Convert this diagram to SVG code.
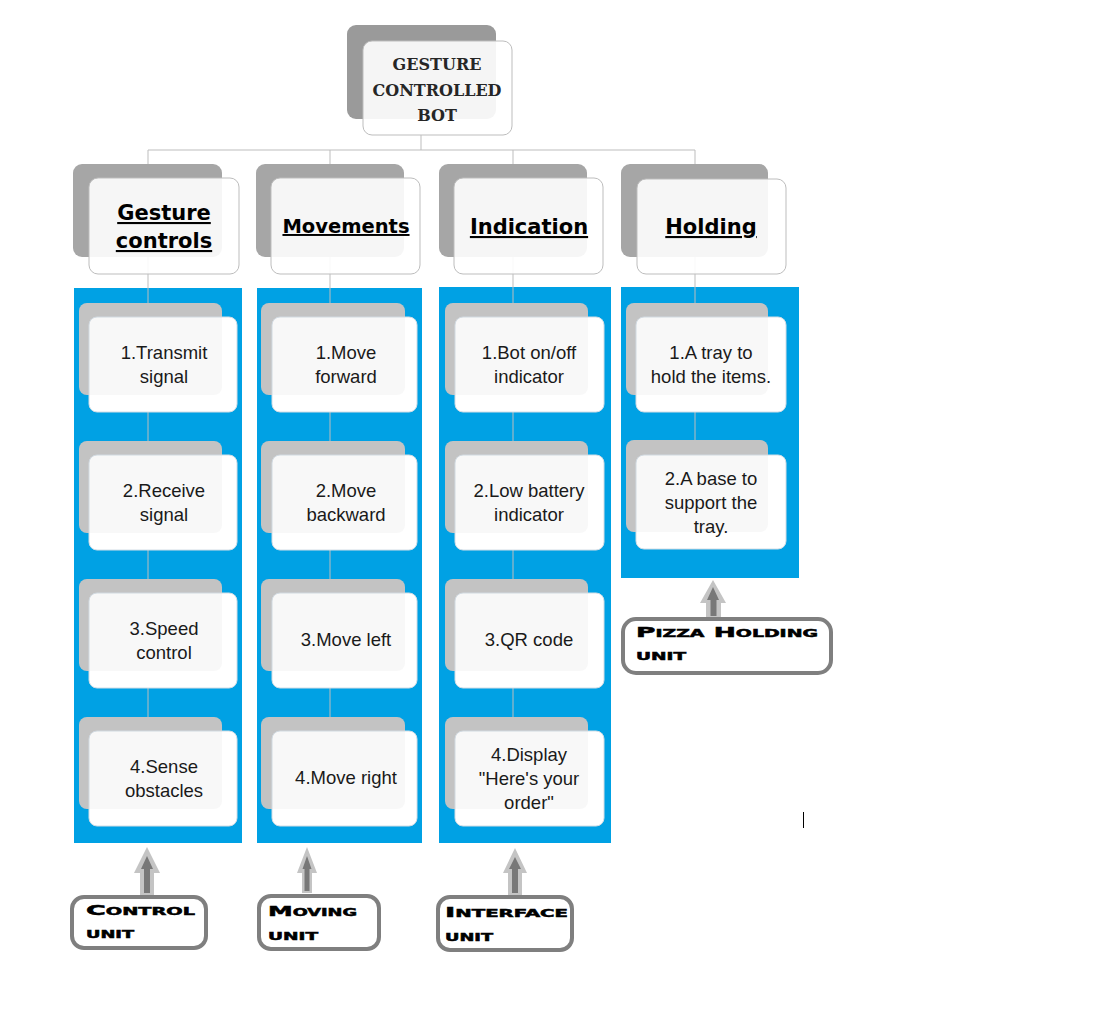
<svg xmlns="http://www.w3.org/2000/svg" width="1100" height="1017" viewBox="0 0 1100 1017">
<style>
.bg{fill:#ffffff}
.blue{fill:#00a1e4}
.bk0{fill:#9a9a9a}
.bk1{fill:#a6a6a6}
.bk2{fill:#c3c3c3}
.ov{fill:#c3c3c3;fill-opacity:.12}
.fr{fill:#ffffff;fill-opacity:.9;stroke:#bdbdbd;stroke-width:1}
.fr2{fill:#ffffff;stroke:#d3dde5;stroke-width:1}
.conn{stroke:#bdbdbd;stroke-width:1;fill:none}
.t0{font-family:"DejaVu Serif",serif;font-weight:bold;font-size:16px;text-anchor:middle;fill:#262626}
.t1{font-family:"DejaVu Sans",sans-serif;font-weight:bold;font-size:21px;text-anchor:middle;text-decoration:underline;fill:#000}
.t1s{font-size:19.5px}
.t2{font-family:"Liberation Sans",Arial,sans-serif;font-size:18.5px;text-anchor:middle;fill:#1a1a1a}
.lab{fill:#ffffff;stroke:#7f7f7f;stroke-width:4}
.t3{font-family:"DejaVu Sans",sans-serif;font-weight:bold;font-size:14px;font-variant:small-caps;fill:#000;stroke:#000;stroke-width:.5}
.aO{fill:#c4c4c4}
.aI{fill:#787878}
</style>
<rect class="bg" x="0" y="0" width="1100" height="1017"/>

<g id="panels">
<rect class="blue" x="74" y="288" width="168" height="555"/>
<rect class="blue" x="257" y="288" width="165" height="555"/>
<rect class="blue" x="439" y="287" width="172" height="556"/>
<rect class="blue" x="621" y="287" width="178" height="291"/>
</g>

<g id="connectors">
<path class="conn" d="M421 135V150M148 150H695M148 150V717M330 150V717M513 150V717M695 150V440"/>
</g>

<g id="root">
<rect class="bk0" x="347" y="25" width="149" height="94" rx="9"/>
<rect class="fr" x="363" y="41" width="149" height="94" rx="9"/>
<text class="t0" x="437" y="70">GESTURE</text>
<text class="t0" x="437" y="96">CONTROLLED</text>
<text class="t0" x="437" y="121">BOT</text>
</g>

<g id="gesture">
<rect class="bk1" x="73" y="164" width="149" height="93" rx="9"/>
<rect class="fr" x="89" y="178" width="150" height="96" rx="9"/>
<text class="t1" x="164" y="220">Gesture</text>
<text class="t1" x="164" y="248">controls</text>
</g>
<g id="movements">
<rect class="bk1" x="256" y="164" width="148" height="93" rx="9"/>
<rect class="fr" x="271" y="178" width="149" height="96" rx="9"/>
<text class="t1 t1s" x="346" y="233">Movements</text>
</g>
<g id="indication">
<rect class="bk1" x="439" y="164" width="148" height="93" rx="9"/>
<rect class="fr" x="454" y="178" width="149" height="96" rx="9"/>
<text class="t1" x="529" y="234">Indication</text>
</g>
<g id="holding">
<rect class="bk1" x="621" y="164" width="147" height="93" rx="9"/>
<rect class="fr" x="637" y="179" width="149" height="95" rx="9"/>
<text class="t1" x="711" y="234">Holding</text>
</g>

<g id="g1">
<rect class="bk2" x="79" y="303" width="143" height="92" rx="8"/>
<rect class="fr2" x="89" y="317" width="148" height="95" rx="8"/>
<rect class="ov" x="79" y="303" width="143" height="92" rx="8"/>
<text class="t2" x="164" y="359">1.Transmit</text>
<text class="t2" x="164" y="383">signal</text>
</g>
<g id="g2">
<rect class="bk2" x="79" y="441" width="143" height="92" rx="8"/>
<rect class="fr2" x="89" y="455" width="148" height="95" rx="8"/>
<rect class="ov" x="79" y="441" width="143" height="92" rx="8"/>
<text class="t2" x="164" y="497">2.Receive</text>
<text class="t2" x="164" y="521">signal</text>
</g>
<g id="g3">
<rect class="bk2" x="79" y="579" width="143" height="92" rx="8"/>
<rect class="fr2" x="89" y="593" width="148" height="95" rx="8"/>
<rect class="ov" x="79" y="579" width="143" height="92" rx="8"/>
<text class="t2" x="164" y="635">3.Speed</text>
<text class="t2" x="164" y="659">control</text>
</g>
<g id="g4">
<rect class="bk2" x="79" y="717" width="143" height="92" rx="8"/>
<rect class="fr2" x="89" y="731" width="148" height="95" rx="8"/>
<rect class="ov" x="79" y="717" width="143" height="92" rx="8"/>
<text class="t2" x="164" y="773">4.Sense</text>
<text class="t2" x="164" y="797">obstacles</text>
</g>

<g id="m1">
<rect class="bk2" x="261" y="303" width="144" height="92" rx="8"/>
<rect class="fr2" x="272" y="317" width="145" height="95" rx="8"/>
<rect class="ov" x="261" y="303" width="144" height="92" rx="8"/>
<text class="t2" x="346" y="359">1.Move</text>
<text class="t2" x="346" y="383">forward</text>
</g>
<g id="m2">
<rect class="bk2" x="261" y="441" width="144" height="92" rx="8"/>
<rect class="fr2" x="272" y="455" width="145" height="95" rx="8"/>
<rect class="ov" x="261" y="441" width="144" height="92" rx="8"/>
<text class="t2" x="346" y="497">2.Move</text>
<text class="t2" x="346" y="521">backward</text>
</g>
<g id="m3">
<rect class="bk2" x="261" y="579" width="144" height="92" rx="8"/>
<rect class="fr2" x="272" y="593" width="145" height="95" rx="8"/>
<rect class="ov" x="261" y="579" width="144" height="92" rx="8"/>
<text class="t2" x="346" y="646">3.Move left</text>
</g>
<g id="m4">
<rect class="bk2" x="261" y="717" width="144" height="92" rx="8"/>
<rect class="fr2" x="272" y="731" width="145" height="95" rx="8"/>
<rect class="ov" x="261" y="717" width="144" height="92" rx="8"/>
<text class="t2" x="346" y="784">4.Move right</text>
</g>

<g id="i1">
<rect class="bk2" x="445" y="303" width="143" height="92" rx="8"/>
<rect class="fr2" x="455" y="317" width="149" height="95" rx="8"/>
<rect class="ov" x="445" y="303" width="143" height="92" rx="8"/>
<text class="t2" x="529" y="359">1.Bot on/off</text>
<text class="t2" x="529" y="383">indicator</text>
</g>
<g id="i2">
<rect class="bk2" x="445" y="441" width="143" height="92" rx="8"/>
<rect class="fr2" x="455" y="455" width="149" height="95" rx="8"/>
<rect class="ov" x="445" y="441" width="143" height="92" rx="8"/>
<text class="t2" x="529" y="497">2.Low battery</text>
<text class="t2" x="529" y="521">indicator</text>
</g>
<g id="i3">
<rect class="bk2" x="445" y="579" width="143" height="92" rx="8"/>
<rect class="fr2" x="455" y="593" width="149" height="95" rx="8"/>
<rect class="ov" x="445" y="579" width="143" height="92" rx="8"/>
<text class="t2" x="529" y="646">3.QR code</text>
</g>
<g id="i4">
<rect class="bk2" x="445" y="717" width="143" height="92" rx="8"/>
<rect class="fr2" x="455" y="731" width="149" height="95" rx="8"/>
<rect class="ov" x="445" y="717" width="143" height="92" rx="8"/>
<text class="t2" x="529" y="761">4.Display</text>
<text class="t2" x="529" y="785">"Here's your</text>
<text class="t2" x="529" y="809">order"</text>
</g>

<g id="h1">
<rect class="bk2" x="626" y="303" width="142" height="92" rx="8"/>
<rect class="fr2" x="636" y="317" width="150" height="95" rx="8"/>
<rect class="ov" x="626" y="303" width="142" height="92" rx="8"/>
<text class="t2" x="711" y="359">1.A tray to</text>
<text class="t2" x="711" y="383">hold the items.</text>
</g>
<g id="h2">
<rect class="bk2" x="626" y="440" width="142" height="92" rx="8"/>
<rect class="fr2" x="636" y="455" width="150" height="94" rx="8"/>
<rect class="ov" x="626" y="440" width="142" height="92" rx="8"/>
<text class="t2" x="711" y="485">2.A base to</text>
<text class="t2" x="711" y="509">support the</text>
<text class="t2" x="711" y="533">tray.</text>
</g>

<g id="arrows">
<polygon class="aO" points="147,847 160,873 154,873 154,895 140,895 140,873 134,873"/>
<polygon class="aI" points="147,856 153,869 150,869 150,893 144,893 144,869 141,869"/>
<polygon class="aO" points="307,847 317,873 312,873 312,893 302,893 302,873 297,873"/>
<polygon class="aI" points="307,856 311.5,869 309.5,869 309.5,891 304.5,891 304.5,869 302.5,869"/>
<polygon class="aO" points="515,848 527,873 522,873 522,895 508,895 508,873 503,873"/>
<polygon class="aI" points="515,857 521,869 518,869 518,893 512,893 512,869 509,869"/>
<polygon class="aO" points="713,580 726,603 721,603 721,618 706,618 706,603 700,603"/>
<polygon class="aI" points="713,587 719,600 716.5,600 716.5,616 710.5,616 710.5,600 707,600"/>
</g>

<g id="control-unit">
<rect class="lab" x="72" y="897" width="134" height="51" rx="12"/>
<text class="t3" x="86" y="915" textLength="109" lengthAdjust="spacingAndGlyphs">Control</text>
<text class="t3" x="86" y="938" textLength="48" lengthAdjust="spacingAndGlyphs">unit</text>
</g>
<g id="moving-unit">
<rect class="lab" x="259" y="896" width="120" height="53" rx="12"/>
<text class="t3" x="268" y="916" textLength="89" lengthAdjust="spacingAndGlyphs">Moving</text>
<text class="t3" x="268" y="940" textLength="50" lengthAdjust="spacingAndGlyphs">unit</text>
</g>
<g id="interface-unit">
<rect class="lab" x="438" y="897" width="134" height="53" rx="12"/>
<text class="t3" x="445" y="917" textLength="123" lengthAdjust="spacingAndGlyphs">Interface</text>
<text class="t3" x="445" y="941" textLength="48" lengthAdjust="spacingAndGlyphs">unit</text>
</g>
<g id="pizza-holding-unit">
<rect class="lab" x="623" y="619" width="208" height="54" rx="13"/>
<text class="t3" x="636" y="637" textLength="182" lengthAdjust="spacingAndGlyphs">Pizza Holding</text>
<text class="t3" x="636" y="660" textLength="50" lengthAdjust="spacingAndGlyphs">unit</text>
</g>

<line x1="803.5" y1="812" x2="803.5" y2="828" stroke="#000" stroke-width="1"/>
</svg>
